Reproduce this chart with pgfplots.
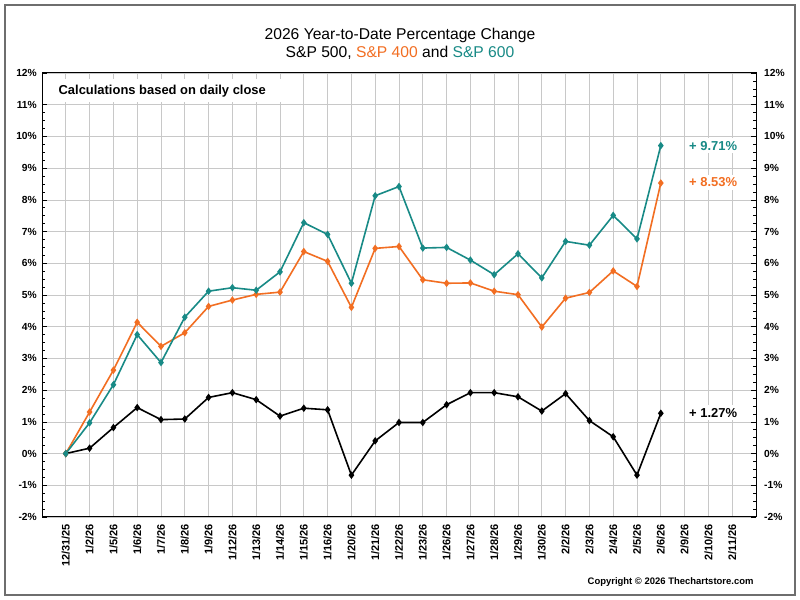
\documentclass[border=0pt]{standalone}
\usepackage{pgfplots}
\usepackage{pgfplotstable}
\pgfplotsset{compat=1.18}
\usepackage{fontspec}
\setmainfont{Liberation Sans}
\definecolor{spOrange}{RGB}{242,110,34}
\definecolor{spTeal}{RGB}{24,138,134}
\definecolor{gridgray}{RGB}{200,200,200}
\definecolor{framegray}{RGB}{110,110,110}

\pgfplotstableread{
x spx mid small
0 0 0 0
1 0.17 1.31 0.97
2 0.82 2.63 2.17
3 1.45 4.14 3.75
4 1.07 3.38 2.87
5 1.09 3.81 4.30
6 1.77 4.64 5.12
7 1.92 4.84 5.23
8 1.70 5.02 5.15
9 1.18 5.09 5.73
10 1.43 6.37 7.28
11 1.38 6.06 6.91
12 -0.68 4.61 5.37
13 0.40 6.47 8.13
14 0.98 6.53 8.42
15 0.98 5.48 6.48
16 1.54 5.37 6.50
17 1.92 5.38 6.10
18 1.92 5.12 5.64
19 1.79 5.01 6.30
20 1.34 3.99 5.54
21 1.89 4.90 6.69
22 1.04 5.08 6.57
23 0.53 5.76 7.51
24 -0.68 5.27 6.77
25 1.27 8.53 9.71
}\data

\begin{document}
\begin{tikzpicture}
\fill[white] (0bp,0bp) rectangle (800bp,600bp);
\draw[framegray, line width=1.2bp] (5bp,5bp) rectangle (795bp,595bp);

\node[font=\fontsize{15.7}{18}\selectfont] at (400bp,565bp) {2026 Year-to-Date Percentage Change};
\node[font=\fontsize{15.7}{18}\selectfont] at (400bp,547bp) {S\&P 500, \textcolor{spOrange}{S\&P 400} and \textcolor{spTeal}{S\&P 600}};

\begin{axis}[
  at={(42bp,83bp)}, anchor=south west,
  scale only axis, width=714bp, height=444bp,
  xmin=-1, xmax=29, ymin=-2, ymax=12,
  xtick={0,...,28},
  xticklabels={12/31/25,1/2/26,1/5/26,1/6/26,1/7/26,1/8/26,1/9/26,1/12/26,1/13/26,1/14/26,1/15/26,1/16/26,1/20/26,1/21/26,1/22/26,1/23/26,1/26/26,1/27/26,1/28/26,1/29/26,1/30/26,2/2/26,2/3/26,2/4/26,2/5/26,2/6/26,2/9/26,2/10/26,2/11/26},
  xtick style={draw=none},
  minor xtick={-0.5,0.5,...,28.5},
  xticklabel style={rotate=90, anchor=east, font=\bfseries\fontsize{11}{12}\selectfont, inner sep=1bp},
  xticklabel shift=6bp,
  ytick={-2,-1,...,12},
  minor y tick num=3,
  ytick pos=both,
  yticklabel pos=left,
  yticklabel={\pgfmathprintnumber[assume math mode=true]{\tick}\%},
  yticklabel style={font=\bfseries\fontsize{10.3}{12}\selectfont, inner sep=1bp},
  yticklabel shift=4bp,
  xmajorgrids, ymajorgrids,
  major grid style={gridgray, line width=0.7bp},
  major tick length=5bp, minor tick length=3.5bp,
  tick style={black, line width=0.7bp},
  axis line style={black, line width=1bp},
  clip=false,
]
\fill[white] (axis cs:-0.96,11.07) rectangle (axis cs:9.3,11.8);
\node[anchor=west, font=\bfseries\fontsize{13}{15}\selectfont] at (axis cs:-0.45,11.42) {Calculations based on daily close};

\addplot[black, line width=1.6bp, mark=diamond*, mark size=2.5bp] table[x=x, y=spx] {\data};
\addplot[spOrange, line width=1.6bp, mark=diamond*, mark size=2.5bp] table[x=x, y=mid] {\data};
\addplot[spTeal, line width=1.6bp, mark=diamond*, mark size=2.5bp] table[x=x, y=small] {\data};

\node[fill=white, inner sep=3bp, text=spTeal, font=\bfseries\fontsize{13}{15}\selectfont] at (axis cs:27.2,9.71) {+ 9.71\%};
\node[fill=white, inner sep=3bp, text=spOrange, font=\bfseries\fontsize{13}{15}\selectfont] at (axis cs:27.2,8.55) {+ 8.53\%};
\node[fill=white, inner sep=3bp, text=black, font=\bfseries\fontsize{13}{15}\selectfont] at (axis cs:27.2,1.29) {+ 1.27\%};
\end{axis}

\begin{axis}[
  at={(42bp,83bp)}, anchor=south west,
  scale only axis, width=714bp, height=444bp,
  xmin=-1, xmax=29, ymin=-2, ymax=12,
  hide x axis,
  ytick={-2,-1,...,12},
  minor y tick num=3,
  ytick pos=right,
  yticklabel pos=right,
  yticklabel={\pgfmathprintnumber[assume math mode=true]{\tick}\%},
  yticklabel style={font=\bfseries\fontsize{10.3}{12}\selectfont, inner sep=1bp},
  yticklabel shift=7bp,
  major tick length=5bp, minor tick length=3.5bp,
  tick style={black, line width=0.7bp},
  axis line style={black, line width=1bp},
]
\end{axis}

\node[anchor=east, font=\bfseries\fontsize{9.5}{11}\selectfont] at (757bp,18bp) {Copyright \textcopyright\ 2026 Thechartstore.com};
\end{tikzpicture}
\end{document}
